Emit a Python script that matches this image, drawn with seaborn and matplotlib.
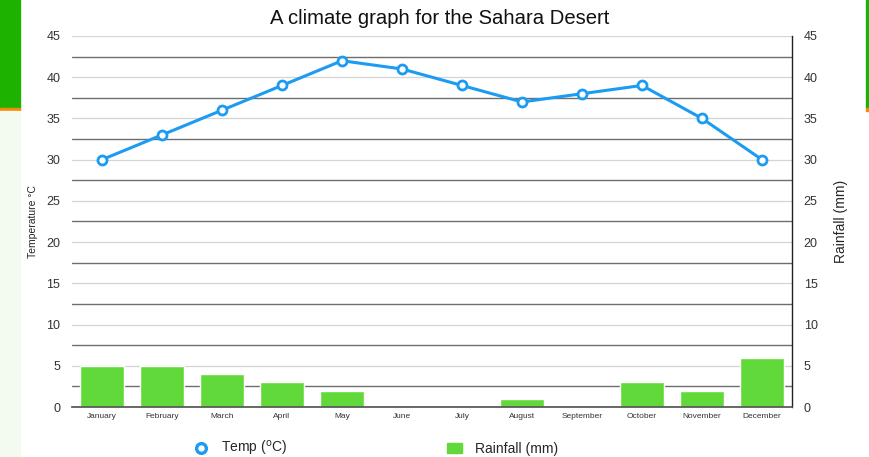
import matplotlib
matplotlib.use("Agg")
import matplotlib.pyplot as plt
import matplotlib.patches as mpatches
from matplotlib.lines import Line2D
import seaborn as sns
import pandas as pd

sns.set_theme(style="white")
plt.rcParams['font.family'] = ['Liberation Sans', 'DejaVu Sans']

# Data
months = ['January', 'February', 'March', 'April', 'May', 'June',
          'July', 'August', 'September', 'October', 'November', 'December']
temp_c = [30, 33, 36, 39, 42, 41, 39, 37, 38, 39, 35, 30]
rainfall_mm = [5, 5, 4, 3, 2, 0, 0, 1, 0, 3, 2, 6]

df = pd.DataFrame({'Month': months, 'Temp': temp_c, 'Rainfall': rainfall_mm})

line_color = '#1b9cf2'
bar_color = '#62d93a'

fig = plt.figure(figsize=(8.69, 4.57), dpi=100)

# side decorations from the page background
def bg_rect(x0, y0, w, h, color):
    fig.patches.append(mpatches.Rectangle((x0 / 869, 1 - (y0 + h) / 457), w / 869, h / 457,
                                          transform=fig.transFigure, color=color, zorder=-5))

bg_rect(0, 0, 20, 108, '#1db100')
bg_rect(0, 108, 20, 3, '#f58a07')
bg_rect(866, 0, 3, 108, '#1db100')
bg_rect(866, 108, 3, 3, '#f58a07')
bg_rect(0, 111, 20, 346, '#f3fbf1')

ax = fig.add_axes([72 / 869, 1 - 407 / 457, (792 - 72) / 869, (407 - 36) / 457])

# grid: light at multiples of 5, dark in between
for v in range(0, 46, 5):
    ax.axhline(v, color='#d4d4d4', lw=0.9, zorder=0)
for v in [2.5 + 5 * i for i in range(9)]:
    ax.axhline(v, color='#6e6e6e', lw=1.0, zorder=0)

sns.barplot(data=df, x='Month', y='Rainfall', color=bar_color, width=0.72,
            saturation=1, ax=ax, zorder=2)
sns.lineplot(x=range(len(months)), y=df['Temp'], color=line_color, lw=2.2,
             marker='o', markersize=6.5, markerfacecolor='white',
             markeredgecolor=line_color, markeredgewidth=2, ax=ax, zorder=3)

ax.set_ylim(0, 45)
ax.set_xlim(-0.5, 11.5)
ax.set_yticks(range(0, 46, 5))
ax.tick_params(axis='y', labelsize=9, colors='#333333', length=0, pad=8.5)
ax.tick_params(axis='x', labelsize=6, colors='#333333', length=0, pad=4)
ax.set_xlabel('')
ax.set_ylabel('Temperature \u00b0C', fontsize=7.5)
ax.yaxis.set_label_coords(-34 / 720, 0.5)
for side in ['top', 'left']:
    ax.spines[side].set_visible(False)
ax.spines['bottom'].set_color('#555555')
ax.spines['right'].set_color('#222222')
ax.spines['right'].set_linewidth(1.0)

ax2 = ax.twinx()
ax2.set_ylim(0, 45)
ax2.set_yticks(range(0, 46, 5))
ax2.tick_params(axis='y', labelsize=9, colors='#333333', length=0, pad=8.5)
ax2.set_ylabel('Rainfall (mm)', fontsize=10, labelpad=12)
for side in ['top', 'left', 'bottom', 'right']:
    ax2.spines[side].set_visible(False)

fig.text(0.506, 1 - 18 / 457, 'A climate graph for the Sahara Desert',
         ha='center', va='center', fontsize=14.6, color='#111111')

handles = [
    Line2D([], [], color=line_color, marker='o', linestyle='none', markersize=7,
           markerfacecolor='white', markeredgewidth=2.4, markeredgecolor=line_color),
    mpatches.Patch(color=bar_color),
]
fig.legend(handles, ['Temp ($^{\\mathrm{o}}$C)', 'Rainfall (mm)'], loc='center',
           bbox_to_anchor=(0.432, 1 - 449 / 457), ncol=2, frameon=False,
           fontsize=10, columnspacing=11.5, handlelength=1.1, handletextpad=0.9)

fig.savefig('out.png', dpi=100)
